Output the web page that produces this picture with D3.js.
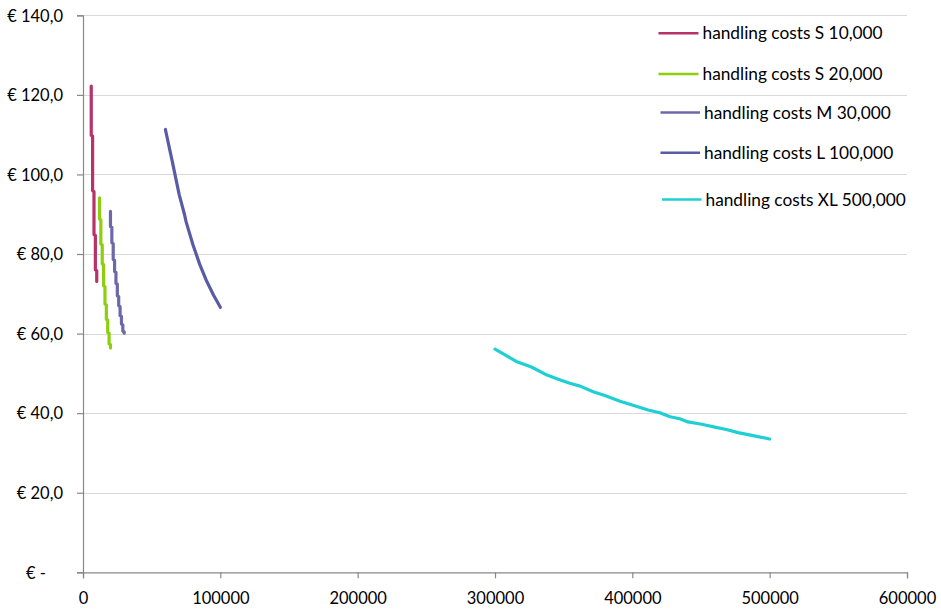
<!DOCTYPE html>
<html>
<head>
<meta charset="utf-8">
<script src="https://cdn.jsdelivr.net/npm/d3@7"></script>
<style>
  html, body { margin: 0; padding: 0; background: #fff; }
  svg { display: block; }
  text { font-family: Lato, "Open Sans", sans-serif; fill: #000; }
</style>
</head>
<body>
<svg id="chart" width="941" height="609"></svg>
<script>
// ---- data ----
const seriesNames = [
  "handling costs S 10,000",
  "handling costs S 20,000",
  "handling costs M 30,000",
  "handling costs L 100,000",
  "handling costs XL 500,000"
];
const seriesColors = ["#B8326A", "#8DCF0F", "#6C68AA", "#5A5BA5", "#1FCFD3"];

const s10X = [6000, 6000, 7000, 7000, 8000, 8000, 9000, 9000, 10000, 10000];
const s10Y = [122.2, 109.8, 109.6, 95.9, 95.7, 84.9, 84.7, 76.0, 75.8, 73.1];

const s20X = [12000, 12000, 13000, 13000, 14000, 14000, 15000, 15000, 16000, 16000, 17000, 17000, 18000, 18000, 19000, 19000, 20000, 20000];
const s20Y = [94.1, 88.8, 88.6, 82.5, 82.3, 77.5, 77.3, 72.0, 71.8, 67.4, 67.2, 63.6, 63.4, 60.3, 60.1, 57.4, 57.2, 56.4];

const m30X = [20000, 20000, 21000, 21000, 22000, 22000, 23000, 23000, 24000, 24000, 25000, 25000, 26000, 26000, 27000, 27000, 28000, 28000, 29000, 29000, 30000, 30000];
const m30Y = [90.7, 86.9, 86.7, 82.8, 82.6, 78.6, 78.4, 75.6, 75.4, 72.6, 72.4, 69.5, 69.3, 67.0, 66.8, 64.5, 64.3, 62.4, 62.2, 60.6, 60.4, 60.1];

const l100X = [60000, 65000, 70000, 74000, 75000, 80000, 85000, 90000, 95000, 100000];
const l100Y = [111.3, 103.3, 95.0, 89.8, 88.2, 82.4, 77.4, 73.2, 69.7, 66.6];

const xl500X = [300000, 307000, 315500, 326500, 336500, 346000, 354500, 362000, 371500, 381000, 391000, 400500, 411500, 420000, 427500, 434500, 440500, 450500, 460000, 468500, 477000, 487000, 500000];
const xl500Y = [56.1, 54.7, 53.0, 51.6, 49.8, 48.5, 47.5, 46.8, 45.4, 44.3, 43.0, 42.0, 40.8, 40.1, 39.1, 38.6, 37.8, 37.2, 36.5, 35.9, 35.1, 34.4, 33.5];

const xTicks = [0, 100000, 200000, 300000, 400000, 500000, 600000];
const yTicks = [0, 20, 40, 60, 80, 100, 120, 140];

const seriesX = [s10X, s20X, m30X, l100X, xl500X];
const seriesY = [s10Y, s20Y, m30Y, l100Y, xl500Y];

// ---- layout ----
const svg = d3.select("#chart");
const plot = { left: 83, right: 907, top: 15.3, bottom: 572.3 };

const x = d3.scaleLinear().domain([0, 600000]).range([plot.left, plot.right]);
const y = d3.scaleLinear().domain([0, 140]).range([plot.bottom, plot.top]);

// gridlines
svg.append("g")
  .selectAll("line")
  .data(yTicks.filter(d => d > 0))
  .join("line")
  .attr("x1", plot.left).attr("x2", plot.right)
  .attr("y1", d => Math.round(y(d)) + 0.5).attr("y2", d => Math.round(y(d)) + 0.5)
  .attr("stroke", "#D9D9D9").attr("stroke-width", 1.2);

// y axis
const yAxis = svg.append("g")
  .attr("transform", `translate(${plot.left},0)`)
  .call(d3.axisLeft(y).tickValues(yTicks).tickSize(6).tickPadding(14)
    .tickFormat(d => d === 0 ? "€ -" : "€ " + d3.format(".1f")(d).replace(".", ",")));
yAxis.select(".domain").attr("stroke", "#888").attr("stroke-width", 1.2);
yAxis.selectAll(".tick line").attr("stroke", "#888").attr("stroke-width", 1.2);
yAxis.selectAll(".tick text")
  .style("font-size", "16.5px")
  .attr("dy", "0.35em")
  .attr("x", d => d === 0 ? -37 : -20);

// x axis
const xAxis = svg.append("g")
  .attr("transform", `translate(0,${plot.bottom})`)
  .call(d3.axisBottom(x).tickValues(xTicks).tickSize(6).tickPadding(14)
    .tickFormat(d3.format("d")));
xAxis.select(".domain").attr("stroke", "#888").attr("stroke-width", 1.2);
xAxis.selectAll(".tick line").attr("stroke", "#888").attr("stroke-width", 1.2);
xAxis.selectAll(".tick text").style("font-size", "16.5px");

// series lines
const line = d3.line().x(d => x(d[0])).y(d => y(d[1]));
seriesX.forEach((xs, i) => {
  const pts = xs.map((v, j) => [v, seriesY[i][j]]);
  svg.append("path")
    .datum(pts)
    .attr("d", line)
    .attr("fill", "none")
    .attr("stroke", seriesColors[i])
    .attr("stroke-width", 3.2)
    .attr("stroke-linejoin", "round")
    .attr("stroke-linecap", "round");
});

// legend
const legendRows = [
  { cy: 33.3, x1: 658.5, x2: 698.5, tx: 702.5 },
  { cy: 74, x1: 658.5, x2: 698.5, tx: 702.5 },
  { cy: 112.5, x1: 660.5, x2: 700, tx: 704 },
  { cy: 152.8, x1: 660.5, x2: 700, tx: 704 },
  { cy: 199.5, x1: 662, x2: 701.5, tx: 705.5 }
];
const legend = svg.append("g");
seriesNames.forEach((name, i) => {
  const r = legendRows[i];
  legend.append("line")
    .attr("x1", r.x1).attr("x2", r.x2)
    .attr("y1", r.cy).attr("y2", r.cy)
    .attr("stroke", seriesColors[i]).attr("stroke-width", 2.6);
  legend.append("text")
    .attr("x", r.tx).attr("y", r.cy)
    .attr("dy", "0.35em")
    .style("font-size", "17.3px")
    .text(name);
});
</script>
</body>
</html>
